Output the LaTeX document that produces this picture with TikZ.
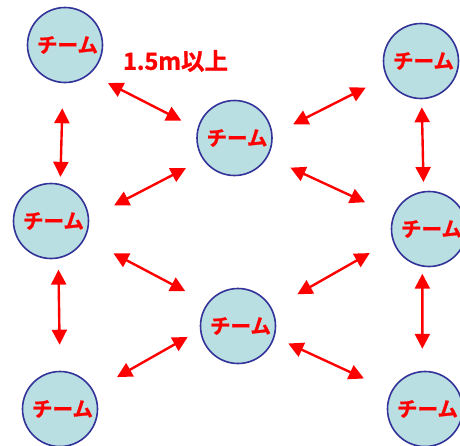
\documentclass[tikz,border=0pt]{standalone}
\usepackage{fontspec}
\newfontfamily\jpfont{Noto Sans CJK JP}[BoldFont={Noto Sans CJK JP Bold},BoldFeatures={FakeBold=1.2}]
\usetikzlibrary{arrows.meta}

\definecolor{kolkoFill}{HTML}{B9DFE3}
\definecolor{kolkoRand}{HTML}{333399}
\definecolor{strzalka}{HTML}{FF0000}

\tikzset{
	druzyna/.style={circle, draw=kolkoRand, line width=1.6pt, fill=kolkoFill,
		minimum size=75pt, inner sep=0pt,
		font=\jpfont\bfseries\fontsize{20.5}{20.5}\selectfont, text=strzalka},
	odstep/.style={strzalka, line width=2.4pt,
		{Triangle[length=15pt,width=15pt]}-{Triangle[length=15pt,width=15pt]}}
}

\begin{document}
\begin{tikzpicture}[x=1pt,y=-1pt]
	
	\useasboundingbox (0,0) rectangle (460,445);
	
	% Druzyny
	\node[druzyna] (tl) at (65,45) {\hspace{5pt}チーム};
	\node[druzyna] (mt) at (234.5,138) {\hspace{5pt}チーム};
	\node[druzyna] (rt) at (421,61) {\hspace{5pt}チーム};
	\node[druzyna] (lm) at (51,221) {\hspace{5pt}チーム};
	\node[druzyna] (mb) at (238,326) {\hspace{5pt}チーム};
	\node[druzyna] (rm) at (429,229) {\hspace{5pt}チーム};
	\node[druzyna] (lb) at (60,409) {\hspace{5pt}チーム};
	\node[druzyna] (rb) at (425,409) {\hspace{5pt}チーム};
	
	% Odleglosc
	\node[font=\jpfont\bfseries\fontsize{23.5}{23.5}\selectfont, text=strzalka]
	(napis) at (175.5,61) {1.5m以上};
	
	% Strzalki pionowe
	\draw[odstep, shorten <=25pt, shorten >=7pt] (tl.-93) -- (lm.76);
	\draw[odstep, shorten <=11pt, shorten >=26pt] (lm.-79) -- (lb.90);
	\draw[odstep, shorten <=8pt, shorten >=9pt] (rt.-89) -- (rm.98);
	\draw[odstep, shorten <=7pt, shorten >=22pt] (rm.-100) -- (rb.94);
	
	% Strzalki ukosne
	\draw[odstep, shorten <=20pt, shorten >=18pt] (tl.-49) -- (mt.166);
	\draw[odstep, shorten <=19pt, shorten >=28pt] (mt.-146) -- (lm.4);
	\draw[odstep, shorten <=32pt, shorten >=25pt] (lm.-27) -- (mb.143);
	\draw[odstep, shorten <=14pt, shorten >=27pt] (mb.-174) -- (lb.29);
	\draw[odstep, shorten <=23pt, shorten >=23pt] (mt.5) -- (rt.-155);
	\draw[odstep, shorten <=25pt, shorten >=31pt] (mt.-30) -- (rm.159);
	\draw[odstep, shorten <=29pt, shorten >=26pt] (mb.27) -- (rm.-163);
	\draw[odstep, shorten <=15pt, shorten >=30pt] (mb.-17) -- (rb.152);
	
\end{tikzpicture}
\end{document}
